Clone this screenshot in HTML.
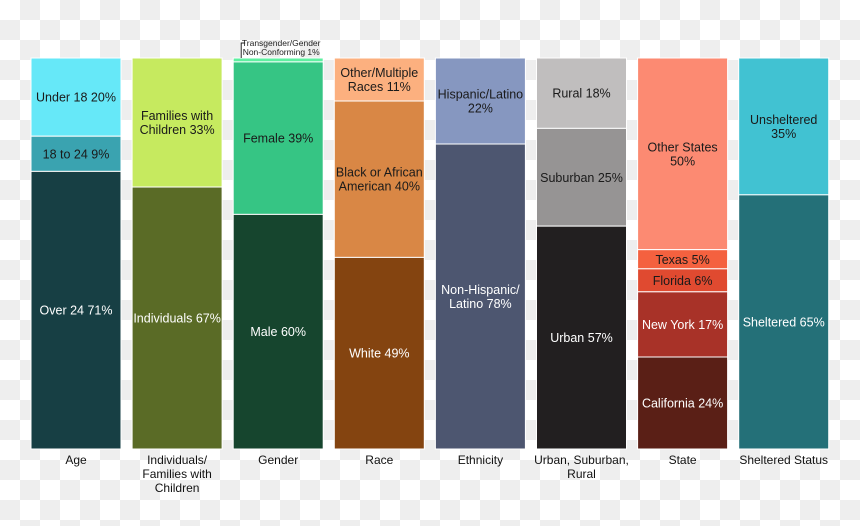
<!DOCTYPE html>
<html><head><meta charset="utf-8"><style>
html,body{margin:0;padding:0}
body{width:860px;height:526px;overflow:hidden;font-family:"Liberation Sans",Arial,sans-serif;
background-color:#fff;background-image:linear-gradient(45deg,#eee 25%,transparent 25%,transparent 75%,#eee 75%),linear-gradient(45deg,#eee 25%,transparent 25%,transparent 75%,#eee 75%);background-size:40px 40px;background-position:0 0,20px 20px}
svg{position:absolute;left:0;top:0}
</style></head><body>
<svg id="chart" width="860" height="526" xmlns="http://www.w3.org/2000/svg"></svg>
<script>
const categories=["Age","Individuals/|Families with|Children","Gender","Race","Ethnicity","Urban, Suburban,|Rural","State","Sheltered Status"];
const segLabels=[
 ["Under 18 20%","18 to 24 9%","Over 24 71%"],
 ["Families with|Children 33%","Individuals 67%"],
 ["","Female 39%","Male 60%"],
 ["Other/Multiple|Races 11%","Black or African|American 40%","White 49%"],
 ["Hispanic/Latino|22%","Non-Hispanic/|Latino 78%"],
 ["Rural 18%","Suburban 25%","Urban 57%"],
 ["Other States|50%","Texas 5%","Florida 6%","New York 17%","California 24%"],
 ["Unsheltered|35%","Sheltered 65%"]];
const segValues=[[20,9,71],[33,67],[1,39,60],[11,40,49],[22,78],[18,25,57],[50,5,6,17,24],[35,65]];
const segColors=[["#66e8f8","#3aa3b0","#173f44"],["#c6ea5f","#5a6b26"],["#5ef0a0","#36c584","#16452e"],["#fcb07f","#d98745","#844410"],["#8697c0","#4d5670"],["#c0bebe","#969494","#221f20"],["#fc8a72","#f4613f","#e04a30","#a83228","#5a1f16"],["#41c2d2","#247078"]];
const textDark=[[1,1,0],[1,0],[1,1,0],[1,1,0],[1,0],[1,1,0],[1,1,1,0,0],[1,0]];
const svg=document.getElementById('chart');
const NS='http://www.w3.org/2000/svg';
const top0=58,bot=449,x0=31,step=101.1,bw=90;
const xPos=i=>x0+i*step;
const yScale=(cum,total)=>top0+(bot-top0)*cum/total;
function mk(t,a){const e=document.createElementNS(NS,t);for(const k in a)e.setAttribute(k,a[k]);svg.appendChild(e);return e;}
categories.forEach((c,i)=>{
 const vals=segValues[i];const total=vals.reduce((a,b)=>a+b,0);let cum=0;const x=xPos(i);
 vals.forEach((v,j)=>{
  const y1=yScale(cum,total),y2=yScale(cum+v,total);cum+=v;
  const r=mk('rect',{x:x,y:y1,width:bw,height:y2-y1,fill:segColors[i][j],stroke:'#fff','stroke-width':1});
  
  
  const lines=segLabels[i][j]?segLabels[i][j].split('|'):[];
  const cy=(y1+y2)/2;
  lines.forEach((ln,k)=>{
   const t=mk('text',{x:x+bw/2,y:cy+(k-(lines.length-1)/2)*14+4.5,'text-anchor':'middle','font-size':12.5,fill:textDark[i][j]?'#1a1a1a':'#fff'});
   t.textContent=ln;
   
   
  });
 });
 c.split('|').forEach((ln,k)=>{
  const t=mk('text',{x:x+bw/2,y:464+k*14,'text-anchor':'middle','font-size':12,fill:'#111'});
  t.textContent=ln;
  
  
 });
});
const gx=xPos(2);
const br=mk('polyline',{points:(gx+8)+',58 '+(gx+8)+',43 '+(gx+12)+',43',fill:'none',stroke:'#222','stroke-width':1});


["Transgender/Gender","Non-Conforming 1%"].forEach((ln,k)=>{
 const t=mk('text',{x:gx+48,y:46+k*9,'text-anchor':'middle','font-size':8.5,fill:'#222'});
 t.textContent=ln;
 
 
});
</script>
</body></html>
